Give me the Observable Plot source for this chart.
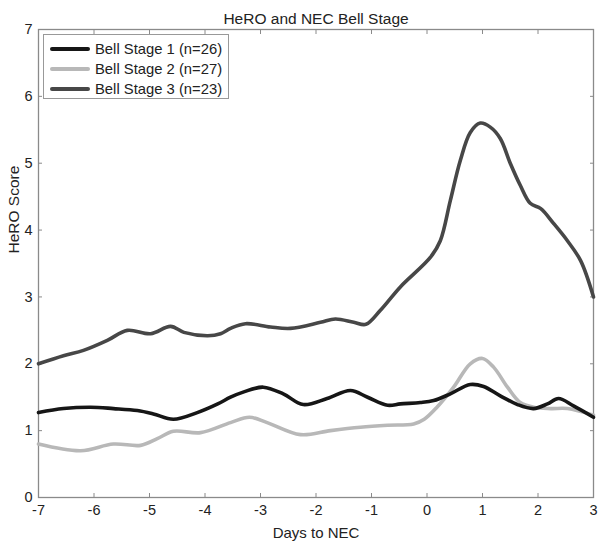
<!DOCTYPE html>
<html>
<head>
<meta charset="utf-8">
<script src="https://cdn.jsdelivr.net/npm/d3@7"></script>
<script src="https://cdn.jsdelivr.net/npm/@observablehq/plot@0.6"></script>
<style>
  html, body { margin: 0; padding: 0; background: #fff; }
  #wrap { position: relative; width: 598px; height: 543px; font-family: "Liberation Sans", Arial, sans-serif; }
  #legend { position: absolute; left: 43px; top: 34px; width: 184px; height: 63px; border: 1px solid #999; background: #fff; box-sizing: content-box; }
  .row { position: absolute; left: 0; height: 20px; display: flex; align-items: center; }
  .sw { width: 40px; height: 4px; margin-left: 6px; margin-right: 5px; border-radius: 2px; }
  .lab { font-size: 14.8px; color: #222; white-space: nowrap; }
</style>
</head>
<body>
<div id="wrap"></div>
<script>
const title = "HeRO and NEC Bell Stage";
const xLabel = "Days to NEC";
const yLabel = "HeRO Score";
const xTicks = [-7, -6, -5, -4, -3, -2, -1, 0, 1, 2, 3];
const yTicks = [0, 1, 2, 3, 4, 5, 6, 7];

const seriesNames = ["Bell Stage 1 (n=26)", "Bell Stage 2 (n=27)", "Bell Stage 3 (n=23)"];
const seriesColors = ["#161616", "#b8b8b8", "#474747"];

const days1 = [-7, -6.55, -6.06, -5.65, -5.22, -4.93, -4.57, -4.14, -3.77, -3.54, -3.3, -2.95, -2.59, -2.23, -1.8, -1.38, -1.07, -0.71, -0.48, -0.12, 0.12, 0.42, 0.78, 1.02, 1.32, 1.63, 1.92, 2.17, 2.37, 2.64, 3.0];
const vals1 = [1.27, 1.33, 1.35, 1.33, 1.3, 1.25, 1.17, 1.27, 1.4, 1.5, 1.58, 1.65, 1.55, 1.39, 1.48, 1.6, 1.5, 1.38, 1.4, 1.42, 1.45, 1.55, 1.69, 1.66, 1.52, 1.39, 1.33, 1.4, 1.48, 1.37, 1.2];

const days2 = [-7, -6.24, -5.65, -5.16, -4.86, -4.57, -4.08, -3.54, -3.2, -2.88, -2.28, -1.74, -1.2, -0.71, -0.24, -0.05, 0.18, 0.48, 0.78, 1.0, 1.2, 1.45, 1.68, 1.92, 2.23, 2.53, 3.0];
const vals2 = [0.8, 0.7, 0.8, 0.78, 0.88, 0.99, 0.97, 1.12, 1.2, 1.12, 0.94, 1.0, 1.05, 1.08, 1.1, 1.17, 1.35, 1.65, 2.0, 2.08, 1.95, 1.65, 1.42, 1.35, 1.33, 1.33, 1.23];

const days3 = [-7, -6.55, -6.19, -5.76, -5.4, -4.98, -4.62, -4.38, -3.95, -3.72, -3.54, -3.27, -2.82, -2.46, -1.92, -1.65, -1.32, -1.1, -0.84, -0.48, 0.06, 0.24, 0.42, 0.6, 0.78, 0.96, 1.14, 1.32, 1.5, 1.68, 1.86, 2.05, 2.28, 2.53, 2.77, 3.0];
const vals3 = [2.0, 2.12, 2.2, 2.35, 2.5, 2.45, 2.56, 2.47, 2.42, 2.45, 2.53, 2.6, 2.55, 2.53, 2.62, 2.67, 2.62, 2.59, 2.8, 3.15, 3.59, 3.84, 4.44, 5.04, 5.46, 5.6, 5.54, 5.37, 5.0, 4.67, 4.4, 4.32, 4.1, 3.84, 3.54, 3.0];

const toRows = (ds, vs, s) => ds.map((d, i) => ({day: d, score: vs[i], series: s}));
const s1 = toRows(days1, vals1, seriesNames[0]);
const s2 = toRows(days2, vals2, seriesNames[1]);
const s3 = toRows(days3, vals3, seriesNames[2]);

const font = "Liberation Sans, Arial, sans-serif";
const axisGray = "#8a8a8a";
const textCol = "#222";

const chart = Plot.plot({
  width: 598,
  height: 543,
  marginTop: 29,
  marginRight: 5,
  marginBottom: 46,
  marginLeft: 38,
  style: {fontFamily: font, background: "#fff", overflow: "visible"},
  x: {domain: [-7, 3]},
  y: {domain: [0, 7]},
  marks: [
    Plot.frame({stroke: axisGray, strokeWidth: 1.3}),
    Plot.axisX({anchor: "bottom", ticks: xTicks, tickSize: -4, tickFormat: () => "", stroke: axisGray, label: null}),
    Plot.axisX({anchor: "top", ticks: xTicks, tickSize: -4, tickFormat: () => "", stroke: axisGray, label: null}),
    Plot.axisY({anchor: "left", ticks: yTicks, tickSize: -4, tickFormat: () => "", stroke: axisGray, label: null}),
    Plot.axisY({anchor: "right", ticks: yTicks, tickSize: -4, tickFormat: () => "", stroke: axisGray, label: null}),
    Plot.axisX({anchor: "bottom", ticks: xTicks, tickSize: 0, tickPadding: 7, tickFormat: d => d < 0 ? "-" + Math.abs(d) : String(d), fontSize: 14.5, fill: textCol, label: null}),
    Plot.axisY({anchor: "left", ticks: yTicks, tickSize: 0, tickPadding: 6, tickFormat: d => String(d), fontSize: 14.5, fill: textCol, label: null}),
    Plot.line(s2, {x: "day", y: "score", stroke: seriesColors[1], strokeWidth: 3.6, curve: "catmull-rom"}),
    Plot.line(s1, {x: "day", y: "score", stroke: seriesColors[0], strokeWidth: 3.6, curve: "catmull-rom"}),
    Plot.line(s3, {x: "day", y: "score", stroke: seriesColors[2], strokeWidth: 3.6, curve: "catmull-rom"}),
    Plot.text([title], {frameAnchor: "top", dy: -17, fontSize: 15.5, fill: textCol}),
    Plot.text([xLabel], {frameAnchor: "bottom", dy: 40, fontSize: 15, fill: textCol}),
    Plot.text([yLabel], {frameAnchor: "left", dx: -24, dy: -10, rotate: -90, fontSize: 15.5, fill: textCol})
  ]
});

const wrap = document.getElementById("wrap");
wrap.appendChild(chart);

const legend = document.createElement("div");
legend.id = "legend";
seriesNames.forEach((name, i) => {
  const row = document.createElement("div");
  row.className = "row";
  row.style.top = (4 + i * 20) + "px";
  const sw = document.createElement("div");
  sw.className = "sw";
  sw.style.background = seriesColors[i];
  const lab = document.createElement("span");
  lab.className = "lab";
  lab.textContent = name;
  row.appendChild(sw);
  row.appendChild(lab);
  legend.appendChild(row);
});
wrap.appendChild(legend);
</script>
</body>
</html>
